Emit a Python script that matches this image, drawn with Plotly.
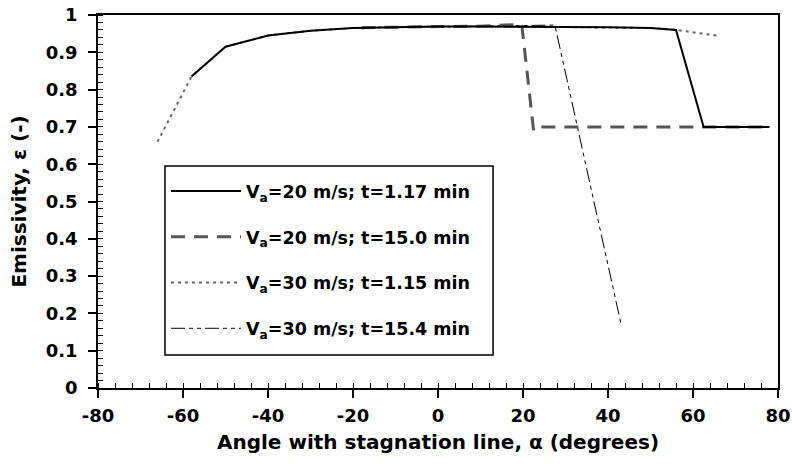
import plotly.graph_objects as go

# Series data (angle in degrees, emissivity)
s1_x = [-58, -50, -40, -30, -20, -10, 0, 10, 20, 30, 40, 50, 56, 62.5, 70, 78]
s1_y = [0.835, 0.915, 0.945, 0.958, 0.965, 0.968, 0.969, 0.969, 0.969, 0.968, 0.967, 0.965, 0.960, 0.70, 0.70, 0.70]

s2_x = [-18, -10, 0, 10, 19.7, 22.5, 24, 30, 40, 50, 60, 70, 78]
s2_y = [0.966, 0.968, 0.969, 0.970, 0.975, 0.69, 0.70, 0.70, 0.70, 0.70, 0.70, 0.70, 0.70]

s3_x = [-66, -58, -50, -40, -30, -20, -10, 0, 10, 20, 30, 40, 50, 56, 65.5]
s3_y = [0.66, 0.835, 0.915, 0.945, 0.958, 0.965, 0.968, 0.969, 0.969, 0.969, 0.968, 0.967, 0.965, 0.960, 0.945]

s4_x = [-18, -10, 0, 10, 20, 27.5, 43]
s4_y = [0.966, 0.968, 0.969, 0.970, 0.971, 0.973, 0.175]

names = [
    "<b>V<sub>a</sub>=20 m/s; t=1.17 min</b>",
    "<b>V<sub>a</sub>=20 m/s; t=15.0 min</b>",
    "<b>V<sub>a</sub>=30 m/s; t=1.15 min</b>",
    "<b>V<sub>a</sub>=30 m/s; t=15.4 min</b>",
]

x_ticks = [-80, -60, -40, -20, 0, 20, 40, 60, 80]
x_ticktext = ["<b>-80</b>", "<b>-60</b>", "<b>-40</b>", "<b>-20</b>", "<b>0</b>", "<b>20</b>", "<b>40</b>", "<b>60</b>", "<b>80</b>"]
y_ticks = [0, 0.1, 0.2, 0.3, 0.4, 0.5, 0.6, 0.7, 0.8, 0.9, 1]
y_ticktext = ["<b>0</b>", "<b>0.1</b>", "<b>0.2</b>", "<b>0.3</b>", "<b>0.4</b>", "<b>0.5</b>",
              "<b>0.6</b>", "<b>0.7</b>", "<b>0.8</b>", "<b>0.9</b>", "<b>1</b>"]

FONT = "DejaVu Sans, Arial, sans-serif"

fig = go.Figure()
fig.add_trace(go.Scatter(x=s3_x, y=s3_y, mode="lines", name=names[2], legendgroup="c", legendrank=3,
                         line=dict(color="#666666", width=2, dash="3px,4px")))
fig.add_trace(go.Scatter(x=s4_x, y=s4_y, mode="lines", name=names[3], legendgroup="d", legendrank=4,
                         line=dict(color="black", width=1, dash="14px,4px,4px,4px,4px,4px")))
fig.add_trace(go.Scatter(x=s2_x, y=s2_y, mode="lines", name=names[1], legendgroup="b", legendrank=2,
                         line=dict(color="#555555", width=3, dash="14px,9px")))
fig.add_trace(go.Scatter(x=s1_x, y=s1_y, mode="lines", name=names[0], legendgroup="a", legendrank=1,
                         line=dict(color="black", width=2)))

# legend frame (drawn as a box behind the legend entries)
fig.add_shape(type="rect", xref="paper", yref="paper", x0=0.0985, x1=0.581, y0=0.0885, y1=0.595,
              line=dict(color="black", width=1.5), fillcolor="white", layer="below")

fig.update_layout(
    width=792, height=466,
    margin=dict(l=98, r=14, t=15, b=78, autoexpand=False),
    paper_bgcolor="white", plot_bgcolor="white",
    font=dict(family=FONT, size=18, color="black"),
    legend=dict(x=0.1, y=0.576, xanchor="left", yanchor="top",
                borderwidth=0, bgcolor="rgba(0,0,0,0)",
                font=dict(size=17.5), tracegroupgap=20, itemwidth=70,
                traceorder="grouped"),
    xaxis=dict(range=[-80, 80], tickvals=x_ticks, ticktext=x_ticktext, showgrid=False, zeroline=False,
               showline=True, linecolor="black", linewidth=1.5, mirror=True, automargin=False,
               ticks="outside", ticklen=8, tickwidth=1.5, tickcolor="black", ticklabelstandoff=3,
               ticklabeloverflow="allow",
               minor=dict(dtick=4, tick0=-80, ticks="inside", ticklen=5, tickwidth=1.2, tickcolor="black"),
               title=dict(text="<b>Angle with stagnation line, α (degrees)</b>", font=dict(size=20), standoff=10),
               tickfont=dict(size=18)),
    yaxis=dict(range=[0, 1], tickvals=y_ticks, ticktext=y_ticktext, showgrid=False, zeroline=False,
               showline=True, linecolor="black", linewidth=1.5, mirror=True, automargin=False,
               ticks="outside", ticklen=8, tickwidth=1.5, tickcolor="black", ticklabelstandoff=7,
               ticklabeloverflow="allow",
               minor=dict(dtick=0.02, tick0=0, ticks="inside", ticklen=5, tickwidth=1.2, tickcolor="black"),
               title=dict(text="<b>Emissivity, ε (-)</b>", font=dict(size=20), standoff=14),
               tickfont=dict(size=18)),
)

fig.write_html("out.html", config={"displayModeBar": False},
               post_script="document.body.style.margin='0';")
